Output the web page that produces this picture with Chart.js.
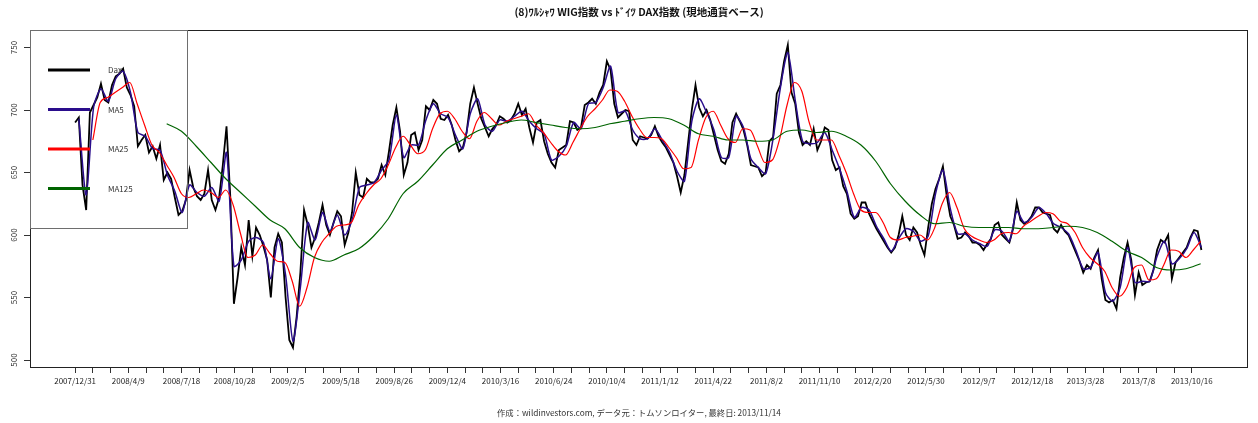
<!DOCTYPE html>
<html>
<head>
<meta charset="utf-8">
<script src="https://cdn.jsdelivr.net/npm/chart.js@4"></script>
<style>
  html, body { margin: 0; padding: 0; background: #fff; }
  canvas { display: block; }
</style>
</head>
<body>
<canvas id="chartWig" width="1258" height="423"></canvas>
<script>
// x = trading day counted from 2007/12/31
const lastDay = 1527;

const dateLabels = [
    "2007/12/31", "2008/4/9", "2008/7/18", "2008/10/28", "2009/2/5", "2009/5/18",
    "2009/8/26", "2009/12/4", "2010/3/16", "2010/6/24", "2010/10/4", "2011/1/12",
    "2011/4/22", "2011/8/2", "2011/11/10", "2012/2/20", "2012/5/30", "2012/9/7",
    "2012/12/18", "2013/3/28", "2013/7/8", "2013/10/16",
];
const labelStep = 72;   // days between printed dates
const tickStep = 24;    // days between tick marks
const yTicks = [500, 550, 600, 650, 700, 750];

// Dax, every 5 trading days from day 0
const daxStart = 0, daxStep = 5;
const daxValues = [
    690, 694, 640, 620, 698, 704, 710, 721, 708, 706,
    720, 727, 729, 733, 718, 712, 703, 671, 676, 680,
    666, 671, 661, 672, 644, 650, 645, 630, 616, 619,
    628, 652, 638, 631, 628, 633, 652, 628, 620, 630,
    656, 687, 632, 545, 566, 590, 576, 612, 583, 606,
    600, 591, 580, 550, 590, 601, 594, 550, 516, 510,
    535, 570, 620, 608, 590, 598, 610, 624, 608, 600,
    610, 619, 615, 592, 602, 618, 650, 632, 630, 645,
    642, 642, 645, 656, 648, 667, 688, 702, 683, 648,
    658, 680, 682, 668, 676, 703, 700, 708, 705, 693,
    692, 696, 688, 676, 667, 670, 682, 705, 718, 705,
    693, 686, 679, 685, 688, 695, 693, 690, 692, 697,
    705, 696, 701, 686, 674, 690, 692, 675, 665, 658,
    654, 668, 670, 672, 691, 690, 684, 686, 704, 706,
    709, 705, 714, 720, 739, 732, 705, 694, 697, 700,
    699, 676, 672, 679, 678, 677, 680, 687, 679, 674,
    670, 664, 658, 647, 634, 648, 674, 700, 720, 702,
    695, 700, 692, 680, 668, 659, 657, 665, 690, 697,
    691, 684, 672, 656, 655, 654, 647, 650, 675, 678,
    713, 720, 739, 752, 714, 705, 682, 672, 675, 672,
    685, 668, 675, 686, 684, 660, 652, 654, 639, 633,
    617, 613, 615, 626, 626, 617, 611, 605, 600, 595,
    590, 586, 590, 600, 615, 600, 596, 606, 602, 592,
    584, 606, 625, 637, 645, 655, 632, 615, 608, 597,
    598, 602, 599, 594, 594, 592, 588, 593, 597, 608,
    610, 600, 597, 594, 605, 626, 612, 609, 611, 615,
    622, 622, 618, 617, 616, 605, 602, 608, 603, 600,
    593, 586, 579, 570, 576, 573, 582, 588, 565, 548,
    546, 548, 541, 566, 582, 594, 580, 552, 570, 560,
    562, 563, 572, 588, 596, 594, 600, 565, 578, 582,
    586, 590, 598, 604, 603, 588,
];

// MA5, every 10 days from day 5
const ma5Start = 5, ma5Step = 10;
const ma5Values = [
    693, 632, 702, 717, 707, 725, 731, 714, 682, 679,
    669, 668, 648, 635, 618, 640, 634, 631, 638, 627,
    666, 575, 580, 595, 598, 594, 565, 597, 568, 515,
    558, 610, 596, 618, 603, 616, 600, 612, 638, 640,
    642, 652, 660, 696, 662, 672, 672, 692, 705, 697,
    694, 680, 669, 697, 709, 688, 683, 692, 691, 695,
    699, 691, 685, 681, 660, 663, 671, 690, 685, 705,
    706, 718, 735, 698, 699, 684, 677, 677, 685, 676,
    666, 651, 643, 691, 709, 698, 684, 662, 662, 695,
    686, 661, 654, 649, 677, 718, 746, 708, 675, 673,
    674, 682, 668, 653, 635, 614, 622, 620, 607, 597,
    587, 597, 605, 603, 595, 599, 633, 652, 621, 601,
    601, 596, 593, 591, 604, 603, 595, 619, 610, 614,
    622, 617, 609, 606, 601, 588, 573, 574, 586, 554,
    547, 558, 590, 562, 563, 563, 583, 595, 577, 581,
    589, 602, 590,
];

// MA25, every 10 days from day 24
const ma25Start = 24, ma25Step = 10;
const ma25Values = [
    676, 706, 710, 714, 718, 722, 705, 688, 672, 666,
    656, 646, 633, 630, 633, 636, 634, 630, 636, 624,
    601, 582, 584, 592, 585, 579, 578, 563, 543, 558,
    582, 594, 601, 607, 608, 610, 624, 633, 640, 645,
    656, 670, 679, 672, 665, 668, 685, 697, 699, 693,
    683, 677, 691, 698, 693, 688, 691, 693, 695, 697,
    688, 682, 674, 667, 664, 674, 685, 695, 701, 708,
    716, 715, 707, 695, 685, 678, 678, 677, 670, 662,
    653, 654, 676, 694, 699, 688, 677, 674, 685, 684,
    671, 658, 660, 677, 704, 722, 715, 690, 676, 676,
    676, 664, 650, 633, 620, 618, 618, 610, 598, 596,
    598, 599, 600, 596, 606, 625, 634, 622, 605, 599,
    596, 594, 596, 601, 602, 601, 607, 611, 615, 618,
    617, 611, 609, 602, 590, 582, 577, 571, 558, 551,
    558, 574, 576, 564, 565, 576, 588, 587, 582, 588,
    595,
];

// MA125, every 20 days from day 124
const ma125Start = 124, ma125Step = 20;
const ma125Values = [
    689, 683, 671, 658, 645, 634, 623, 612, 605, 590,
    582, 579, 584, 589, 599, 613, 633, 643, 656, 669,
    676, 683, 687, 690, 692, 690, 688, 686, 685, 686,
    689, 691, 693, 694, 693, 688, 681, 679, 676, 676,
    675, 676, 683, 684, 682, 683, 679, 672, 659, 641,
    627, 616, 609, 610, 607, 606, 606, 606, 605, 605,
    606, 607, 606, 602, 595, 587, 582, 574, 572, 573,
    577,
];

const seriesNames = ["Dax", "MA5", "MA25", "MA125"];
const seriesColors = ["#000000", "#2a0d8c", "#ff0000", "#006400"];

const FONT = '"Noto Sans CJK JP", "DejaVu Sans", sans-serif';
const TITLE = "(8)ﾜﾙｼｬﾜ WIG指数 vs ﾄﾞｲﾂ DAX指数 (現地通貨ベース)";
const FOOTER = "作成：wildinvestors.com, データ元：トムソンロイター, 最終日: 2013/11/14";

function toPoints(values, start, step) {
    return values.map((v, i) => ({ x: start + i * step, y: v }));
}

const xPad = lastDay * 0.04;
const yMin = 494.4, yMax = 764;

const decor = {
    id: "decor",
    beforeDraw(chart) {
        const ctx = chart.ctx;
        ctx.save();
        ctx.fillStyle = "#fff";
        ctx.fillRect(0, 0, chart.width, chart.height);
        ctx.restore();
    },
    afterDatasetsDraw(chart) {
        const { ctx, chartArea: a } = chart;
        ctx.save();
        // plot frame
        ctx.strokeStyle = "#222";
        ctx.lineWidth = 1;
        ctx.strokeRect(a.left + 0.5, a.top + 0.5, a.right - a.left - 1, a.bottom - a.top);

        // legend box (no fill, like the original)
        ctx.strokeStyle = "#6e6e6e";
        ctx.strokeRect(a.left + 0.5, a.top + 0.5, 157, 198);
        ctx.font = "8px " + FONT;
        ctx.textBaseline = "middle";
        ctx.textAlign = "left";
        seriesNames.forEach((name, i) => {
            const y = a.top + 40 + i * 39.5;
            ctx.strokeStyle = seriesColors[i];
            ctx.lineWidth = 3;
            ctx.beginPath();
            ctx.moveTo(a.left + 18, y);
            ctx.lineTo(a.left + 60, y);
            ctx.stroke();
            ctx.fillStyle = "#333";
            ctx.fillText(name, a.left + 78, y);
        });
        ctx.restore();
    },
    afterDraw(chart) {
        const { ctx, chartArea: a } = chart;
        const yScale = chart.scales.y;
        ctx.save();
        ctx.fillStyle = "#111";
        ctx.textAlign = "center";
        ctx.textBaseline = "middle";
        ctx.font = "bold 10.5px " + FONT;
        ctx.fillText(TITLE, (a.left + a.right) / 2, 12);
        ctx.font = "8.3px " + FONT;
        ctx.fillStyle = "#333";
        ctx.fillText(FOOTER, (a.left + a.right) / 2, 413);

        // y tick labels, vertical like R's default
        ctx.font = "8px " + FONT;
        yTicks.forEach(v => {
            const y = yScale.getPixelForValue(v);
            ctx.save();
            ctx.translate(14, y);
            ctx.rotate(-Math.PI / 2);
            ctx.fillText(String(v), 0, 0);
            ctx.restore();
        });
        ctx.restore();
    },
};

document.addEventListener("DOMContentLoaded", () => {
    const c = document.getElementById("chartWig");
    new Chart(c, {
        type: "line",
        data: {
            datasets: [
                {
                    label: "Dax", data: toPoints(daxValues, daxStart, daxStep),
                    borderColor: seriesColors[0], borderWidth: 1.8, tension: 0, order: 4,
                },
                {
                    label: "MA5", data: toPoints(ma5Values, ma5Start, ma5Step),
                    borderColor: seriesColors[1], borderWidth: 1.5, tension: 0.25, order: 3,
                },
                {
                    label: "MA25", data: toPoints(ma25Values, ma25Start, ma25Step),
                    borderColor: seriesColors[2], borderWidth: 1.2, cubicInterpolationMode: "monotone", order: 2,
                },
                {
                    label: "MA125", data: toPoints(ma125Values, ma125Start, ma125Step),
                    borderColor: seriesColors[3], borderWidth: 1.2, cubicInterpolationMode: "monotone", order: 1,
                },
            ],
        },
        options: {
            responsive: false, animation: false,
            devicePixelRatio: 1,
            layout: { padding: { top: 30, left: 0, right: 10, bottom: 0 } },
            elements: { point: { radius: 0 } },
            scales: {
                x: {
                    type: "linear", min: -xPad, max: lastDay + xPad,
                    afterBuildTicks: s => {
                        const t = [];
                        for (let d = 0; d <= (dateLabels.length - 1) * labelStep; d += tickStep) t.push({ value: d });
                        s.ticks = t;
                    },
                    afterFit: s => { s.height = 56; },
                    grid: { drawOnChartArea: false, drawTicks: true, tickLength: 6, color: "#333" },
                    border: { display: false },
                    ticks: {
                        autoSkip: false, maxRotation: 0, minRotation: 0, padding: 3,
                        color: "#222", font: { family: FONT, size: 8 },
                        callback: v => (v % labelStep === 0 ? dateLabels[v / labelStep] : ""),
                    },
                },
                y: {
                    type: "linear", min: yMin, max: yMax,
                    afterBuildTicks: s => { s.ticks = yTicks.map(v => ({ value: v })); },
                    afterFit: s => { s.width = 30; },
                    grid: { drawOnChartArea: false, drawTicks: true, tickLength: 6, color: "#333" },
                    border: { display: false },
                    ticks: { display: false },
                },
            },
            plugins: {
                legend: { display: false },
                tooltip: { enabled: false },
                title: { display: false },
            },
        },
        plugins: [decor],
    });
});
</script>
</body>
</html>
